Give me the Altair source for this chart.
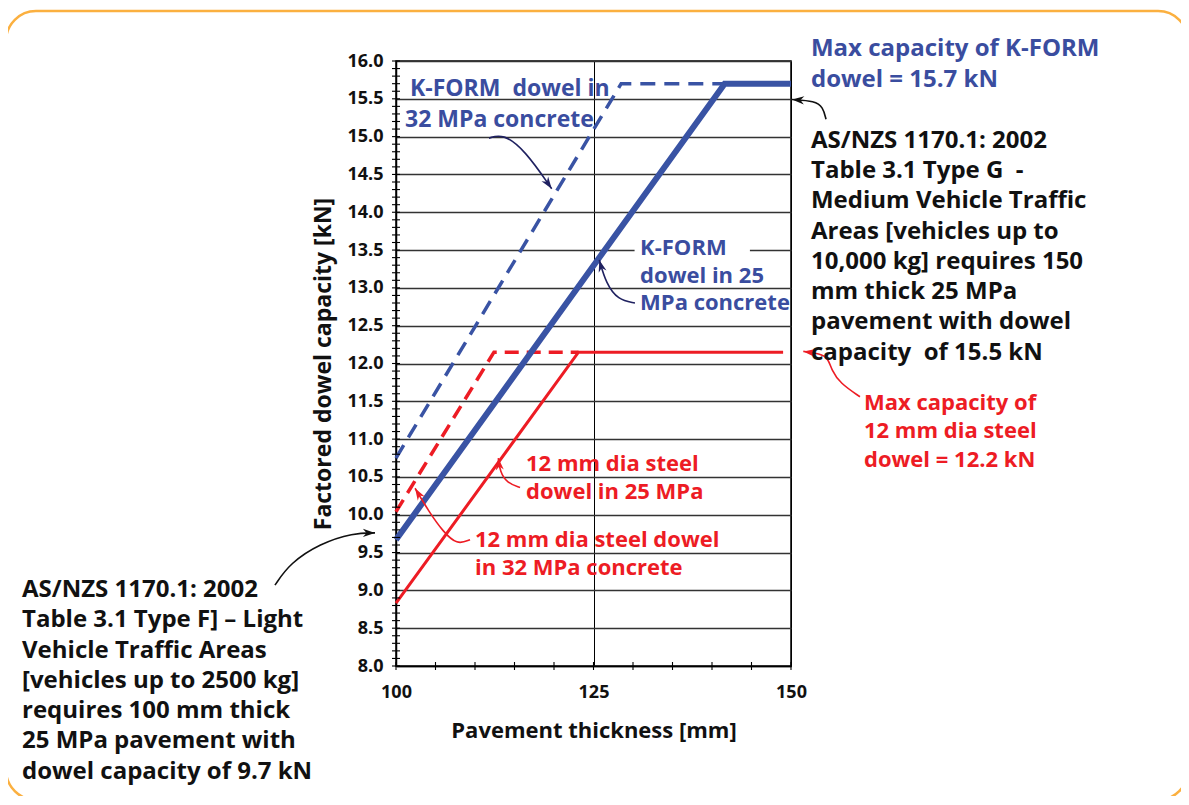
import math
import altair as alt
import pandas as pd

# ---------------- data ----------------
kform25_x = [100, 141.6, 150]
kform25_y = [9.67, 15.7, 15.7]
kform32_x = [100, 128.5, 141.6]
kform32_y = [10.75, 15.7, 15.7]
steel25_x = [100, 123.1, 149]
steel25_y = [8.83, 12.15, 12.15]
steel32_x = [100, 112.4, 123.1]
steel32_y = [10.04, 12.15, 12.15]

x_label_values = [100, 125, 150]
x_tick_values = [100, 105, 110, 115, 120, 125, 130, 135, 140, 145, 150]
y_label_values = [8.0, 8.5, 9.0, 9.5, 10.0, 10.5, 11.0, 11.5, 12.0, 12.5,
                  13.0, 13.5, 14.0, 14.5, 15.0, 15.5, 16.0]
y_minor_values = [round(8.0 + 0.1 * i, 1) for i in range(81)]

# annotation text lines: (text, x [mm], baseline y [kN])
blue_tl_text = ["K-FORM\u00a0\u00a0dowel in", "32 MPa concrete"]
blue_tl_x = [101.77, 101.14]
blue_tl_y = [15.54, 15.13]

blue_mid_text = ["K-FORM", "dowel in 25", "MPa concrete"]
blue_mid_x = [130.9, 130.9, 130.9]
blue_mid_y = [13.43, 13.07, 12.71]

red1_text = ["12 mm dia steel", "dowel in 25 MPa"]
red1_x = [116.46, 116.46]
red1_y = [10.58, 10.21]

red2_text = ["12 mm dia steel dowel", "in 32 MPa concrete"]
red2_x = [110.0, 110.0]
red2_y = [9.58, 9.20]

blue_tr_text = ["Max capacity of K-FORM", "dowel = 15.7 kN"]
blue_tr_x = [152.53, 152.53]
blue_tr_y = [16.07, 15.65]

black_r_text = ["AS/NZS 1170.1: 2002", "Table 3.1 Type G\u00a0 -", "Medium Vehicle Traffic",
                "Areas [vehicles up to", "10,000 kg] requires 150", "mm thick 25 MPa",
                "pavement with dowel", "capacity\u00a0 of 15.5 kN"]
black_r_x = [152.53] * 8
black_r_y = [14.85, 14.45, 14.05, 13.65, 13.25, 12.85, 12.45, 12.05]

red_r_text = ["Max capacity of", "12 mm dia steel", "dowel = 12.2 kN"]
red_r_x = [159.24, 159.24, 159.24]
red_r_y = [11.39, 11.01, 10.63]

black_l_text = ["AS/NZS 1170.1: 2002", "Table 3.1 Type F] \u2013 Light", "Vehicle Traffic Areas",
                "[vehicles up to 2500 kg]", "requires 100 mm thick", "25 MPa pavement with",
                "dowel capacity of 9.7 kN"]
black_l_x = [52.66] * 7
black_l_y = [8.91, 8.51, 8.11, 7.71, 7.31, 6.91, 6.51]

# callout arrows (x in mm, y in kN), last point is the tip
arrow1_x = [111.77, 113.54, 116.33, 119.71]
arrow1_y = [14.98, 15.04, 14.82, 14.31]
arrow2_x = [130.25, 128.10, 126.58, 125.73]
arrow2_y = [12.80, 12.84, 13.06, 13.37]
arrow3_x = [115.70, 114.05, 113.16, 112.95]
arrow3_y = [10.36, 10.42, 10.57, 10.75]
arrow4_x = [109.37, 107.72, 105.95, 104.30, 102.41]
arrow4_y = [9.67, 9.60, 9.78, 10.02, 10.35]
arrow5_x = [84.68, 86.58, 90.38, 94.59, 97.34]
arrow5_y = [9.07, 9.36, 9.62, 9.76, 9.76]
arrow6_x = [154.43, 154.05, 153.04, 150.13]
arrow6_y = [15.23, 15.39, 15.47, 15.49]
arrow7_x = [158.73, 156.20, 155.15, 154.72, 153.67, 151.56]
arrow7_y = [11.56, 11.74, 11.91, 12.07, 12.13, 12.16]

# ---------------- styles ----------------
BLUE = "#3953a4"
BLUE_TXT = "#3a4d9f"
RED = "#ed1c24"
NAVY = "#1f2160"
BLACK = "#111111"
ORANGE = "#fbb040"
FONT = "Open Sans"

W, H = 395, 605
XMIN, XMAX, YMIN, YMAX = 100, 150, 8, 16

xs = alt.Scale(domain=[XMIN, XMAX], nice=False, zero=False)
ys = alt.Scale(domain=[YMIN, YMAX], nice=False, zero=False)

X_AX = alt.Axis(values=x_label_values, title="Pavement thickness [mm]",
                grid=True, gridColor="#000000", gridWidth=1,
                ticks=False, tickSize=0, labelPadding=17, labelFlush=False,
                labelFont=FONT, labelFontWeight="bold", labelFontSize=18,
                labelColor=BLACK, titleFont=FONT, titleFontWeight="bold",
                titleFontSize=22, titleColor=BLACK, titlePadding=19,
                domain=True, domainColor="#000", domainWidth=1.5)
Y_AX = alt.Axis(values=y_label_values, format=".1f",
                title="Factored dowel capacity [kN]",
                grid=True, gridColor="#333333", gridWidth=1.5,
                ticks=False, tickSize=0, labelPadding=13, labelFlush=False,
                labelFont=FONT, labelFontWeight="bold", labelFontSize=18,
                labelColor=BLACK, titleFont=FONT, titleFontWeight="bold",
                titleFontSize=23, titleColor=BLACK, titlePadding=11,
                domain=True, domainColor="#000", domainWidth=1.5)


def X(field="x"):
    return alt.X(f"{field}:Q", scale=xs, axis=X_AX)


def Y(field="y"):
    return alt.Y(f"{field}:Q", scale=ys, axis=Y_AX)


def series_df(xv, yv):
    return pd.DataFrame({"x": xv, "y": yv, "o": list(range(len(xv)))})


def line_layer(xv, yv, color, width, dash=None):
    kw = dict(color=color, strokeWidth=width, strokeCap="butt", strokeJoin="miter")
    if dash:
        kw["strokeDash"] = dash
    return alt.Chart(series_df(xv, yv)).mark_line(**kw).encode(x=X(), y=Y(), order="o:Q")


# base chart carrying the axes
axis_df = pd.DataFrame({"x": [XMIN, XMAX], "y": [YMIN, YMAX]})
base = alt.Chart(axis_df).mark_point(opacity=0).encode(x=X(), y=Y())

# orange rounded frame around the whole figure
frame = alt.Chart(alt.Data(values=[{"a": 1}])).mark_rect(
    fillOpacity=0, stroke=ORANGE, strokeWidth=2.5, cornerRadius=30
).encode(x=alt.value(-390), x2=alt.value(792), y=alt.value(-50), y2=alt.value(739))

# white box behind the "K-FORM" label
wbox = alt.Chart(pd.DataFrame({"x": [130.2], "x2": [144.8], "y": [13.38], "y2": [13.63]})).mark_rect(
    color="white").encode(x=X(), x2="x2", y=Y(), y2="y2")

lines = [
    line_layer(kform32_x, kform32_y, BLUE, 3.5, [15, 9]),
    line_layer(steel32_x, steel32_y, RED, 3.5, [14, 8]),
    line_layer(steel25_x, steel25_y, RED, 3.0),
    line_layer(kform25_x, kform25_y, BLUE, 6.0),
]

# ticks crossing the axes
yticks = alt.Chart(pd.DataFrame({"y": y_minor_values})).mark_rule(color="#000", strokeWidth=1.1).encode(
    y=Y(), x=alt.value(-4), x2=alt.value(4))
xticks = alt.Chart(pd.DataFrame({"x": x_tick_values})).mark_rule(color="#000", strokeWidth=1.1).encode(
    x=X(), y=alt.value(H - 4), y2=alt.value(H + 4))

# annotation texts
text_rows = []
for texts, xv, yv, color, size in [
    (blue_tl_text, blue_tl_x, blue_tl_y, BLUE_TXT, 23),
    (blue_mid_text, blue_mid_x, blue_mid_y, BLUE_TXT, 22),
    (red1_text, red1_x, red1_y, RED, 22),
    (red2_text, red2_x, red2_y, RED, 22),
    (blue_tr_text, blue_tr_x, blue_tr_y, BLUE_TXT, 24),
    (black_r_text, black_r_x, black_r_y, BLACK, 24),
    (red_r_text, red_r_x, red_r_y, RED, 22),
    (black_l_text, black_l_x, black_l_y, BLACK, 24),
]:
    for t, xx, yy in zip(texts, xv, yv):
        text_rows.append({"t": t, "x": xx, "y": yy, "c": color, "s": size})
texts = alt.Chart(pd.DataFrame(text_rows)).mark_text(
    align="left", baseline="alphabetic", font=FONT, fontWeight="bold"
).encode(
    x=X(), y=Y(),
    text="t:N", color=alt.Color("c:N", scale=None), size=alt.Size("s:Q", scale=None),
)

# callout arrows
arrow_defs = [
    ("a1", arrow1_x, arrow1_y, NAVY),
    ("a2", arrow2_x, arrow2_y, NAVY),
    ("a3", arrow3_x, arrow3_y, RED),
    ("a4", arrow4_x, arrow4_y, RED),
    ("a5", arrow5_x, arrow5_y, BLACK),
    ("a6", arrow6_x, arrow6_y, BLACK),
    ("a7", arrow7_x, arrow7_y, RED),
]
sx, sy = W / (XMAX - XMIN), H / (YMAX - YMIN)
arow, hrow = [], []
for aid, xv, yv, col in arrow_defs:
    for i, (xx, yy) in enumerate(zip(xv, yv)):
        arow.append({"id": aid, "o": i, "x": xx, "y": yy, "c": col})
    dx = (xv[-1] - xv[-2]) * sx
    dy = -(yv[-1] - yv[-2]) * sy
    ang = math.degrees(math.atan2(dx, -dy)) % 360
    hrow.append({"x": xv[-1], "y": yv[-1], "a": ang, "c": col})

arrow_lines = alt.Chart(pd.DataFrame(arow)).mark_line(interpolate="basis", strokeWidth=1.6).encode(
    x=X(), y=Y(), detail="id:N", order="o:Q",
    color=alt.Color("c:N", scale=None))
heads = alt.Chart(pd.DataFrame(hrow)).mark_point(
    shape="M0,0 L0.5,1.5 L0,1.05 L-0.5,1.5 Z", filled=True, size=260, opacity=1
).encode(x=X(), y=Y(),
         angle=alt.Angle("a:Q", scale=None), color=alt.Color("c:N", scale=None))

chart = alt.layer(frame, base, wbox, *lines, yticks, xticks, arrow_lines, heads, texts).properties(
    width=W, height=H,
    autosize=alt.AutoSizeParams(type="none"),
    padding={"left": 388, "top": 53, "right": 390, "bottom": 130},
).configure_view(stroke="#000000", strokeWidth=1.5)

chart.save("out.html", embed_options={"renderer": "svg", "actions": False})
